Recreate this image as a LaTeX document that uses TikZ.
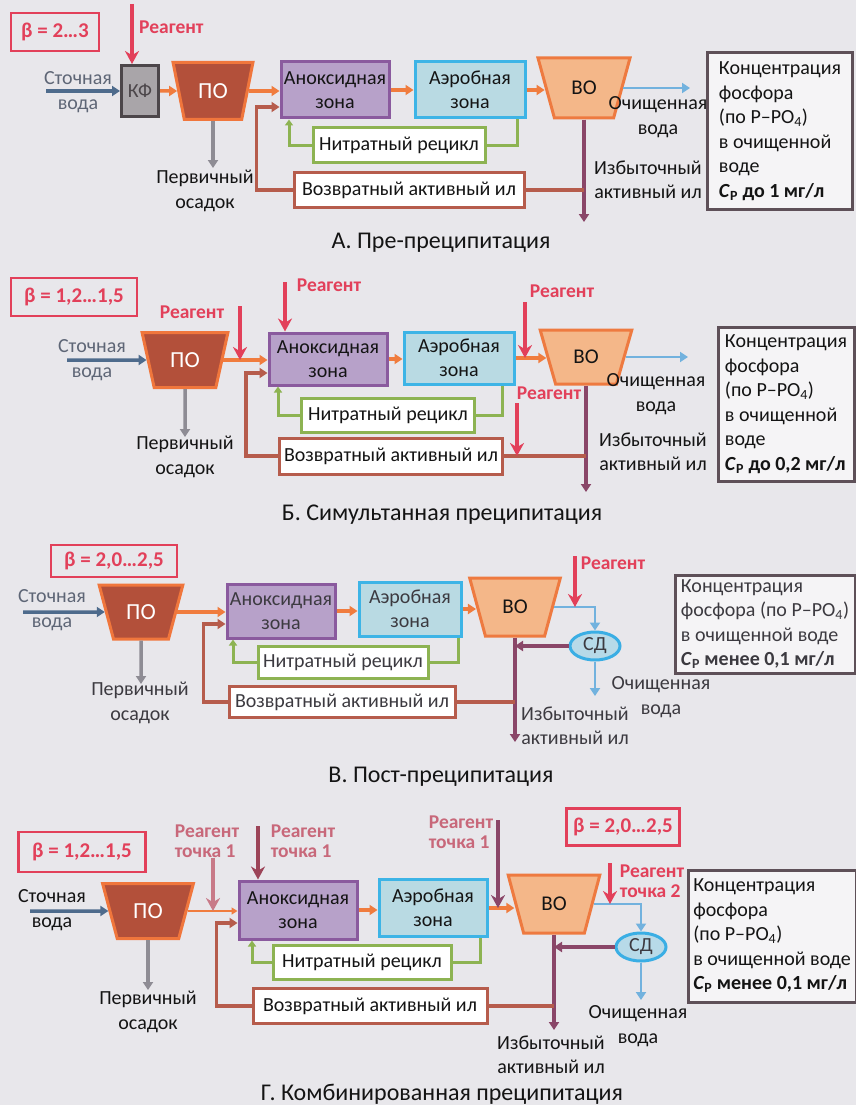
\documentclass[tikz,border=0pt]{standalone}
\usepackage{fontspec}
\setmainfont{Carlito}
\usetikzlibrary{arrows.meta,shapes.geometric}
\definecolor{bg}{HTML}{E8E7EB}
\definecolor{ink}{HTML}{141414}
\definecolor{inkC}{HTML}{3C3A40}
\definecolor{rd}{HTML}{E2405A}
\definecolor{rdsoft}{HTML}{C87A88}
\definecolor{rdlab}{HTML}{C8687A}
\definecolor{rddark}{HTML}{9C4458}
\definecolor{poF}{HTML}{B3503A}
\definecolor{poD}{HTML}{F0763C}
\definecolor{voF}{HTML}{F4B789}
\definecolor{voD}{HTML}{EE7A40}
\definecolor{anoxF}{HTML}{B7A1C9}
\definecolor{anoxD}{HTML}{8A5A9E}
\definecolor{aeroF}{HTML}{B9DAE3}
\definecolor{aeroD}{HTML}{3DB4E6}
\definecolor{nitD}{HTML}{8DB352}
\definecolor{retD}{HTML}{B65C4C}
\definecolor{stemC}{HTML}{8A4668}
\definecolor{waterC}{HTML}{72B2DE}
\definecolor{inC}{HTML}{4E6B8C}
\definecolor{srcC}{HTML}{5E6676}
\definecolor{sedC}{HTML}{8E8C94}
\definecolor{orF}{HTML}{F07C3E}
\definecolor{concD}{HTML}{5E5058}
\definecolor{kfF}{HTML}{A9A5A9}
\definecolor{kfD}{HTML}{4C464A}
\definecolor{sdF}{HTML}{B7DAE8}
\definecolor{sdD}{HTML}{3AAEE4}
\begin{document}
\begin{tikzpicture}[x=1pt,y=-1pt,
  lbl/.style={font=\fontsize{20}{24.5}\selectfont, align=center, inner sep=0pt, text=ink},
  caption/.style={font=\fontsize{24}{28}\selectfont, inner sep=0pt, text=ink},
  reag/.style={font=\bfseries\fontsize{19.5}{20}\selectfont, text=rd, inner sep=0pt, align=left},
  betabox/.style={draw=rd, line width=2.5pt, text=rd, font=\bfseries\fontsize{21}{22}\selectfont, minimum height=38, inner sep=0pt},
  zone/.style={line width=3pt, font=\fontsize{20}{24.5}\selectfont, align=center, inner sep=0pt, text=ink},
  anox/.style={zone, draw=anoxD, fill=anoxF},
  aero/.style={zone, draw=aeroD, fill=aeroF},
  nitr/.style={zone, draw=nitD, fill=white, minimum height=34},
  retn/.style={zone, draw=retD, fill=white, minimum height=35},
  conc/.style={zone, draw=concD, fill=white!55!bg, align=left},
  trap/.style={trapezium, trapezium stretches=true, shape border rotate=180, line width=3pt, inner sep=0pt, font=\fontsize{21}{21}\selectfont},
  po/.style={trap, fill=poF, draw=poD, text=white, font=\fontsize{23}{23}\selectfont},
  vo/.style={trap, fill=voF, draw=voD, text=ink},
  sd/.style={ellipse, line width=3pt, fill=sdF, draw=sdD, minimum width=50, minimum height=28, inner sep=0pt, font=\fontsize{20}{20}\selectfont, text=inkC},
  arrowtip/.style={-{Triangle[width=10pt,length=8pt]}},
  orflow/.style={draw=orF, line width=3.5pt, arrowtip},
  inflow/.style={draw=inC, line width=3.5pt, arrowtip},
  water/.style={draw=waterC, line width=2.5pt, arrowtip},
  sed/.style={draw=sedC, line width=3.5pt, arrowtip},
  stemflow/.style={draw=stemC, line width=3.5pt, arrowtip},
  nitline/.style={draw=nitD, line width=3pt},
  nitarrow/.style={nitline, -{Triangle[width=8pt,length=6pt]}},
  retline/.style={draw=retD, line width=3.5pt},
  retarrow/.style={retline, arrowtip},
  sdret/.style={draw=stemC, line width=3.5pt, arrowtip},
  reagarrow/.style={draw=rd, line width=3.5pt, -{Stealth[width=14pt,length=13pt]}},
]
\fill[bg] (0,0) rectangle (856,1105);
\useasboundingbox (0,0) rectangle (856,1105);

% ================= А. Пре-преципитация =================
\node[betabox, minimum width=88] (betaA) at (55,32) {β = 2…3};
\node[reag, anchor=west] (rgA) at (139,27) {Реагент};
\node[zone, draw=kfD, fill=kfF, text=kfD, minimum width=37, minimum height=51] (kf) at (140,91) {КФ};
\coordinate (rgAtop) at (132,4);
\draw[reagarrow] (rgAtop) -- (rgAtop |- kf.north);
\node[lbl, text=srcC] (srcA) at (78,92) {Сточная\\вода};
\coordinate (inA) at (46,91);
\draw[inflow] (inA) -- (kf.west);
\node[po, minimum width=80, minimum height=57, trapezium angle=69] (poA) at (213,91) {ПО};
\draw[orflow] (kf.east) -- (poA.west);
\node[anox, minimum width=108, minimum height=56] (anoxA) at (335,90) {Аноксидная\\зона};
\draw[orflow] (poA.east) -- (poA.east -| anoxA.west);
\node[aero, minimum width=110, minimum height=56] (aeroA) at (470,90) {Аэробная\\зона};
\draw[orflow] (anoxA.east) -- (aeroA.west);
\node[vo, minimum width=92, minimum height=60, trapezium angle=63] (voA) at (584,88) {ВО};
\draw[orflow] (aeroA.east) -- (aeroA.east -| voA.west);
\coordinate (outA) at (690,86);
\draw[water] (voA.east) -- (voA.east -| outA);
\node[lbl] (cwA) at (658,117) {Очищенная\\вода};
\coordinate (exA) at (585,222);
\draw[stemflow] (voA.south) -- (voA.south |- exA);
\node[lbl] (esA) at (648,180) {Избыточный\\активный ил};
\coordinate (sedA) at (217,168);
\node[lbl] (prA) at (205,191) {Первичный\\осадок};
\draw[sed] (poA.south) -- (poA.south |- sedA);
\node[nitr, minimum width=172] (nitA) at (399,145) {Нитратный рецикл};
\draw[nitline] ([xshift=47pt]aeroA.south) |- (nitA.east);
\draw[nitarrow] (nitA.west) -| ([xshift=-46pt]anoxA.south);
\node[retn, minimum width=230] (retA) at (409,190) {Возвратный активный ил};
\draw[retline] (voA.south |- retA.east) -- (retA.east);
\draw[retarrow] (retA.west) -- ++(-36,0) |- ([yshift=-17pt]anoxA.west);
\node[conc, minimum width=145, minimum height=157] (concA) at (780,131)
  {Концентрация\\фосфора\\(по P–PO\textsubscript{4})\\в очищенной\\воде\\\textbf{\textit{C}\textsubscript{P} до 1 мг/л}};
\node[caption] (capA) at (441,243) {А. Пре-преципитация};

% ================= Б. Симультанная преципитация =================
\node[betabox, minimum width=126] (betaB) at (74,297) {β = 1,2…1,5};
\node[lbl, text=srcC] (srcB) at (92,360) {Сточная\\вода};
\coordinate (inB) at (67,360);
\node[po, minimum width=86, minimum height=55, trapezium angle=69] (poB) at (185,360) {ПО};
\draw[inflow] (inB) -- (poB.west);
\coordinate (sedB) at (185,437);
\draw[sed] (poB.south) -- (sedB);
\node[lbl] (prB) at (185,457) {Первичный\\осадок};
\node[anox, minimum width=118, minimum height=52] (anoxB) at (328,359) {Аноксидная\\зона};
\draw[orflow] (poB.east) -- (poB.east -| anoxB.west);
\node[reag] (rgB1) at (192,312) {Реагент};
\coordinate (rgB1top) at (240,306);
\draw[reagarrow] (rgB1top) -- (rgB1top |- poB.east);
\node[reag] (rgB2) at (329,285) {Реагент};
\coordinate (rgB2top) at (285,282);
\draw[reagarrow] (rgB2top) -- (rgB2top |- anoxB.north);
\node[aero, minimum width=110, minimum height=52] (aeroB) at (459,358) {Аэробная\\зона};
\draw[orflow] (anoxB.east) -- (anoxB.east -| aeroB.west);
\node[vo, minimum width=92, minimum height=54, trapezium angle=65] (voB) at (586,357) {ВО};
\draw[orflow] (aeroB.east) -- (aeroB.east -| voB.west);
\node[reag] (rgB3) at (562,291) {Реагент};
\coordinate (rgB3top) at (525,302);
\draw[reagarrow] (rgB3top) -- (rgB3top |- aeroB.east);
\coordinate (outB) at (688,357);
\draw[water] (voB.east) -- (voB.east -| outB);
\node[lbl] (cwB) at (656,394) {Очищенная\\вода};
\coordinate (exB) at (587,492);
\draw[stemflow] (voB.south) -- (voB.south |- exB);
\node[lbl] (esB) at (653,452) {Избыточный\\активный ил};
\node[conc, minimum width=136, minimum height=154] (concB) at (786,404)
  {Концентрация\\фосфора\\(по P–PO\textsubscript{4})\\в очищенной\\воде\\\textbf{\textit{C}\textsubscript{P} до 0,2 мг/л}};
\node[nitr, minimum width=173] (nitB) at (388,415) {Нитратный рецикл};
\draw[nitline] ([xshift=43pt]aeroB.south) |- (nitB.east);
\draw[nitarrow] (nitB.west) -| ([xshift=-50pt]anoxB.south);
\node[retn, minimum width=223, minimum height=36] (retB) at (391,456) {Возвратный активный ил};
\draw[retline] (voB.south |- retB.east) -- (retB.east);
\draw[retarrow] (retB.west) -- ++(-32,0) |- ([yshift=-14pt]anoxB.west);
\node[reag] (rgB4) at (549,393) {Реагент};
\coordinate (rgB4top) at (517,403);
\draw[reagarrow] (rgB4top) -- (rgB4top |- retB.east);
\node[caption] (capB) at (442,515) {Б. Симультанная преципитация};

% ================= В. Пост-преципитация =================
\node[betabox, minimum width=126, minimum height=32] (betaC) at (114,561) {β = 2,0…2,5};
\node[lbl, text=srcC] (srcCn) at (52,610) {Сточная\\вода};
\coordinate (inCc) at (23,612);
\node[po, minimum width=84, minimum height=54, trapezium angle=63] (poC) at (141,612) {ПО};
\draw[inflow] (inCc) -- (poC.west);
\coordinate (sedC) at (141,684);
\draw[sed] (poC.south) -- (sedC);
\node[lbl, text=inkC] (prC) at (140,703) {Первичный\\осадок};
\node[anox, minimum width=108, minimum height=54, text=inkC] (anoxC) at (281,611) {Аноксидная\\зона};
\draw[orflow] (poC.east) -- (poC.east -| anoxC.west);
\node[aero, minimum width=102, minimum height=54, text=inkC] (aeroC) at (410,609) {Аэробная\\зона};
\draw[orflow] (anoxC.east) -- (anoxC.east -| aeroC.west);
\node[vo, minimum width=91, minimum height=58, trapezium angle=64] (voC) at (515,607) {ВО};
\draw[orflow] (aeroC.east) -- (aeroC.east -| voC.west);
\node[reag] (rgC) at (613,563) {Реагент};
\node[sd] (sdC) at (595,646) {СД};
\coordinate (rgCtop) at (575,556);
\draw[water] (voC.east) -| (sdC.north);
\draw[reagarrow] (rgCtop) -- (rgCtop |- voC.east);
\draw[sdret] (sdC.west) -- (sdC.west -| voC.south);
\coordinate (cwCend) at (595,696);
\draw[water] (sdC.south) -- (cwCend);
\node[lbl, text=inkC] (cwC) at (661,697) {Очищенная\\вода};
\coordinate (exC) at (515,742);
\draw[stemflow] (voC.south) -- (voC.south |- exC);
\node[lbl, text=inkC] (esC) at (575,726) {Избыточный\\активный ил};
\node[nitr, minimum width=170, minimum height=32, text=inkC] (nitC) at (343,662) {Нитратный рецикл};
\draw[nitline] ([xshift=48pt]aeroC.south) |- (nitC.east);
\draw[nitarrow] (nitC.west) -| ([xshift=-48pt]anoxC.south);
\node[retn, minimum width=226, minimum height=31, text=inkC] (retC) at (342,702) {Возвратный активный ил};
\draw[retline] (voC.south |- retC.east) -- (retC.east);
\draw[retarrow] (retC.west) -- ++(-24,0) |- ([yshift=-13pt]anoxC.west);
\node[conc, minimum width=180, minimum height=98, text=inkC] (concC) at (765,624)
  {Концентрация\\фосфора (по P–PO\textsubscript{4})\\в очищенной воде\\\textbf{\textit{C}\textsubscript{P} менее 0,1 мг/л}};
\node[caption] (capC) at (441,777) {В. Пост-преципитация};

% ================= Г. Комбинированная преципитация =================
\node[betabox, minimum width=127, minimum height=40] (betaD1) at (82,852) {β = 1,2…1,5};
\node[betabox, minimum width=113, minimum height=37] (betaD2) at (623,827) {β = 2,0…2,5};
\node[lbl] (srcD) at (52,910) {Сточная\\вода};
\coordinate (inD) at (30,911);
\node[po, minimum width=91, minimum height=55, trapezium angle=65] (poD) at (148,911) {ПО};
\draw[inflow] (inD) -- (poD.west);
\coordinate (sedD) at (148,990);
\draw[sed] (poD.south) -- (poD.south |- sedD);
\node[lbl] (prD) at (148,1012) {Первичный\\осадок};
\node[anox, minimum width=118, minimum height=58] (anoxD) at (298,910) {Аноксидная\\зона};
\draw[draw=orF, line width=2pt, -{Triangle[width=7pt,length=6pt]}] (poD.east) -- (poD.east -| anoxD.west);
\node[reag, text=rdlab] (rgD1) at (207,841) {Реагент\\точка 1};
\coordinate (rgD1top) at (213,858);
\draw[reagarrow, draw=rdsoft] (rgD1top) -- (rgD1top |- poD.east);
\node[reag, text=rdlab] (rgD2) at (303,841) {Реагент\\точка 1};
\coordinate (rgD2top) at (258,826);
\draw[reagarrow, draw=rddark] (rgD2top) -- (rgD2top |- anoxD.north);
\node[aero, minimum width=108, minimum height=57] (aeroD) at (433,908) {Аэробная\\зона};
\draw[orflow] (anoxD.east) -- (anoxD.east -| aeroD.west);
\node[vo, minimum width=92, minimum height=58, trapezium angle=65] (voD) at (554,904) {ВО};
\draw[orflow] (aeroD.east) -- (aeroD.east -| voD.west);
\node[reag, text=rdlab] (rgD3) at (461,832) {Реагент\\точка 1};
\coordinate (rgD3top) at (498,820);
\draw[reagarrow, draw=stemC] (rgD3top) -- (rgD3top |- aeroD.east);
\node[reag] (rgD4) at (652,881) {Реагент\\точка 2};
\node[sd] (sdD) at (641,947) {СД};
\coordinate (rgD4top) at (610,863);
\draw[water] (voD.east) -| (sdD.north);
\draw[reagarrow] (rgD4top) -- (rgD4top |- voD.east);
\draw[sdret] (sdD.west) -- (sdD.west -| voD.south);
\coordinate (cwDend) at (641,1000);
\draw[water] (sdD.south) -- (cwDend);
\node[lbl] (cwD) at (638,1026) {Очищенная\\вода};
\coordinate (exD) at (555,1030);
\draw[stemflow] (voD.south) -- (voD.south |- exD);
\node[lbl] (esD) at (551,1055) {Избыточный\\активный ил};
\node[nitr, minimum width=178, minimum height=34] (nitD) at (362,962) {Нитратный рецикл};
\draw[nitline] ([xshift=47pt]aeroD.south) |- (nitD.east);
\draw[nitarrow] (nitD.west) -| ([xshift=-46pt]anoxD.south);
\node[retn, minimum width=234, minimum height=35] (retD) at (370,1006) {Возвратный активный ил};
\draw[retline] (voD.south |- retD.east) -- (retD.east);
\draw[retarrow] (retD.west) -- ++(-35,0) |- ([yshift=-13pt]anoxD.west);
\node[conc, minimum width=168, minimum height=132] (concD) at (772,936)
  {Концентрация\\фосфора\\(по P–PO\textsubscript{4})\\в очищенной воде\\\textbf{\textit{C}\textsubscript{P} менее 0,1 мг/л}};
\node[caption] (capD) at (442,1094) {Г. Комбинированная преципитация};
\end{tikzpicture}
\end{document}
